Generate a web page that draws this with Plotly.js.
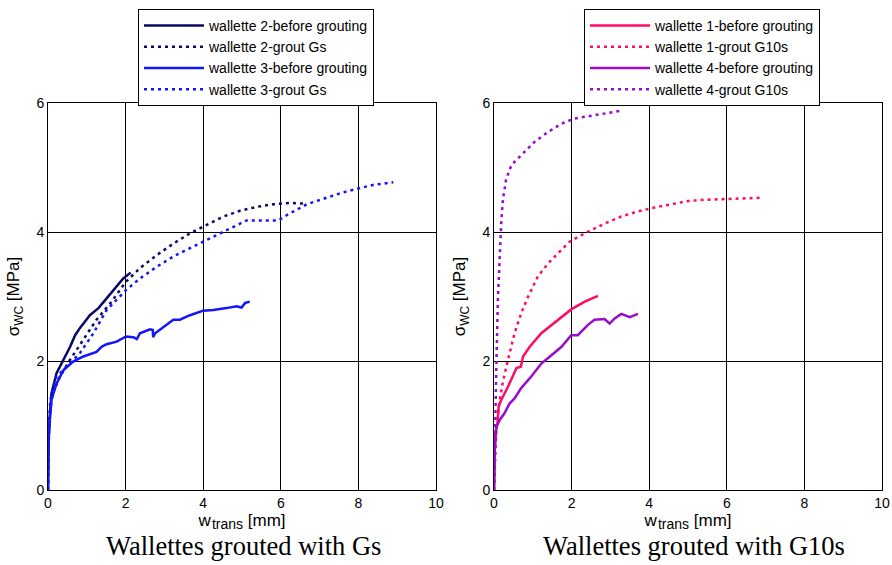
<!DOCTYPE html>
<html>
<head>
<meta charset="utf-8">
<script src="https://cdn.plot.ly/plotly-3.0.1.min.js"></script>
<style>html,body{margin:0;padding:0;background:#fff}#chart{width:892px;height:565px}</style>
</head>
<body>
<div id="chart"></div>
<script>
// Left panel: wallettes grouted with Gs
const w2BeforeX = [0, 0.01, 0.04, 0.09, 0.22, 0.40, 0.57, 0.70, 0.82, 1.08, 1.30, 1.51, 1.73, 1.94, 2.13];
const w2BeforeY = [0, 0.60, 1.10, 1.50, 1.81, 2.02, 2.22, 2.40, 2.51, 2.71, 2.82, 2.97, 3.13, 3.28, 3.37];
const w2GroutX = [0, 0.01, 0.05, 0.12, 0.31, 0.57, 0.91, 1.25, 1.60, 2.01, 2.37, 2.80, 3.23, 3.66, 4.09, 4.52, 4.95, 5.38, 5.81, 6.24, 6.58];
const w2GroutY = [0, 0.70, 1.20, 1.50, 1.76, 2.02, 2.33, 2.64, 2.89, 3.23, 3.44, 3.64, 3.82, 3.98, 4.11, 4.24, 4.33, 4.39, 4.43, 4.45, 4.44];
const w3BeforeX = [0, 0.02, 0.09, 0.22, 0.40, 0.65, 0.91, 1.25, 1.38, 1.51, 1.77, 2.01, 2.20, 2.29, 2.37, 2.63, 2.70, 2.71, 2.76, 2.89, 3.06, 3.23, 3.40, 3.66, 4.00, 4.26, 4.60, 4.86, 4.99, 5.08, 5.20];
const w3BeforeY = [0, 0.88, 1.40, 1.65, 1.86, 1.99, 2.07, 2.14, 2.22, 2.26, 2.30, 2.38, 2.37, 2.34, 2.43, 2.49, 2.48, 2.37, 2.43, 2.49, 2.56, 2.64, 2.64, 2.71, 2.78, 2.79, 2.82, 2.85, 2.83, 2.90, 2.92];
const w3GroutX = [0, 0.01, 0.06, 0.22, 0.48, 0.82, 1.17, 1.51, 2.01, 2.37, 2.80, 3.23, 3.66, 4.09, 4.52, 4.95, 5.12, 5.94, 6.15, 6.67, 7.10, 7.53, 7.96, 8.38, 8.90];
const w3GroutY = [0, 0.80, 1.40, 1.76, 1.91, 2.12, 2.43, 2.79, 3.10, 3.28, 3.46, 3.62, 3.75, 3.88, 4.01, 4.13, 4.18, 4.18, 4.26, 4.43, 4.52, 4.60, 4.67, 4.73, 4.77];

// Right panel: wallettes grouted with G10s
const w1BeforeX = [0, 0.02, 0.03, 0.09, 0.12, 0.19, 0.36, 0.58, 0.69, 0.75, 0.92, 1.22, 1.56, 1.99, 2.34, 2.68];
const w1BeforeY = [0, 0.60, 0.88, 1.03, 1.30, 1.40, 1.60, 1.89, 1.91, 2.07, 2.22, 2.43, 2.59, 2.80, 2.92, 3.01];
const w1GroutX = [0, 0.06, 0.15, 0.23, 0.36, 0.53, 0.70, 0.88, 1.13, 1.39, 1.65, 1.95, 2.34, 2.85, 3.28, 3.71, 4.14, 4.57, 5.00, 5.43, 5.86, 6.29, 6.85];
const w1GroutY = [0, 0.93, 1.40, 1.68, 2.02, 2.43, 2.74, 3.00, 3.31, 3.51, 3.67, 3.85, 3.98, 4.13, 4.24, 4.32, 4.38, 4.43, 4.48, 4.50, 4.51, 4.51, 4.53];
const w4BeforeX = [0, 0.02, 0.06, 0.15, 0.27, 0.40, 0.53, 0.70, 0.96, 1.22, 1.48, 1.74, 1.99, 2.16, 2.42, 2.59, 2.85, 2.98, 3.11, 3.28, 3.50, 3.71];
const w4BeforeY = [0, 0.62, 0.98, 1.09, 1.19, 1.34, 1.42, 1.58, 1.76, 1.96, 2.09, 2.22, 2.40, 2.40, 2.56, 2.64, 2.65, 2.58, 2.66, 2.73, 2.68, 2.73];
const w4GroutX = [0, 0.02, 0.06, 0.10, 0.15, 0.19, 0.23, 0.31, 0.45, 0.70, 1.05, 1.39, 1.74, 2.08, 2.59, 3.28];
const w4GroutY = [0, 0.88, 1.91, 2.95, 3.72, 4.19, 4.50, 4.81, 5.04, 5.19, 5.40, 5.55, 5.68, 5.76, 5.81, 5.88];

const xTicks = [0, 2, 4, 6, 8, 10];
const yTicks = [0, 2, 4, 6];

const navy = '#0a0a66', blue = '#1414ff', pink = '#ff0a64', purple = '#9a0ccc';
const dotted = '3px,4px';

function tr(x, y, name, color, dash, xa, ya, leg) {
  return {x: x, y: y, name: name, type: 'scatter', mode: 'lines', xaxis: xa, yaxis: ya, legend: leg,
    line: {color: color, width: 2.5, dash: dash}};
}

const data = [
  tr(w2BeforeX, w2BeforeY, 'wallette 2-before grouting', navy, 'solid', 'x', 'y', 'legend'),
  tr(w2GroutX, w2GroutY, 'wallette 2-grout Gs', navy, dotted, 'x', 'y', 'legend'),
  tr(w3BeforeX, w3BeforeY, 'wallette 3-before grouting', blue, 'solid', 'x', 'y', 'legend'),
  tr(w3GroutX, w3GroutY, 'wallette 3-grout Gs', blue, dotted, 'x', 'y', 'legend'),
  tr(w1BeforeX, w1BeforeY, 'wallette 1-before grouting', pink, 'solid', 'x2', 'y2', 'legend2'),
  tr(w1GroutX, w1GroutY, 'wallette 1-grout G10s', pink, dotted, 'x2', 'y2', 'legend2'),
  tr(w4BeforeX, w4BeforeY, 'wallette 4-before grouting', purple, 'solid', 'x2', 'y2', 'legend2'),
  tr(w4GroutX, w4GroutY, 'wallette 4-grout G10s', purple, dotted, 'x2', 'y2', 'legend2')
];

const font = {family: 'Liberation Sans, Arial, sans-serif', size: 14, color: '#000'};

function xax(domain, anchor) {
  return {domain: domain, anchor: anchor, range: [0, 10], tickvals: xTicks, ticktext: xTicks.map(String),
    showgrid: true, gridcolor: '#000', gridwidth: 1, zeroline: false, showline: true, linecolor: '#000',
    linewidth: 1, mirror: true, ticks: '', tickfont: {size: 14}, automargin: false,
    title: {text: 'w<span style="font-size:14px">&#8202;</span><sub><span style="font-size:14px">trans</span></sub> [mm]', font: {size: 17}, standoff: 2}};
}
function yax(domain, anchor) {
  return {domain: domain, anchor: anchor, range: [0, 6], tickvals: yTicks, ticktext: yTicks.map(String),
    showgrid: true, gridcolor: '#000', gridwidth: 1, zeroline: false, showline: true, linecolor: '#000',
    linewidth: 1, mirror: true, ticks: '', tickfont: {size: 14}, automargin: false,
    title: {text: 'σ<sub>WC</sub> [MPa]', font: {size: 17}, standoff: 12}};
}

const yDom = [1 - 490 / 565, 1 - 103 / 565];
const legBase = {bgcolor: '#fff', bordercolor: '#000', borderwidth: 1, font: {size: 14},
  xanchor: 'left', yanchor: 'top', itemwidth: 60, tracegroupgap: 0, traceorder: 'normal'};

const titleFont = {family: 'Liberation Serif, Times New Roman, serif', size: 26.5, color: '#000'};

const layout = {
  width: 892, height: 565,
  margin: {l: 0, r: 0, t: 0, b: 0},
  paper_bgcolor: '#fff', plot_bgcolor: '#fff',
  font: font,
  showlegend: true,
  xaxis: xax([48 / 892, 436 / 892], 'y'),
  yaxis: yax(yDom, 'x'),
  xaxis2: xax([494 / 892, 882 / 892], 'y2'),
  yaxis2: yax(yDom, 'x2'),
  legend: Object.assign({}, legBase, {x: 138 / 892, y: 1 - 9 / 565}),
  legend2: Object.assign({}, legBase, {x: 584 / 892, y: 1 - 9 / 565}),
  annotations: [
    {text: 'Wallettes grouted with Gs', xref: 'paper', yref: 'paper', x: 243 / 892, y: 1 - 546 / 565,
      xanchor: 'center', yanchor: 'middle', showarrow: false, font: titleFont},
    {text: 'Wallettes grouted with G10s', xref: 'paper', yref: 'paper', x: 694 / 892, y: 1 - 546 / 565,
      xanchor: 'center', yanchor: 'middle', showarrow: false, font: titleFont}
  ]
};

Plotly.newPlot('chart', data, layout, {displayModeBar: false, staticPlot: true});
</script>
</body>
</html>
